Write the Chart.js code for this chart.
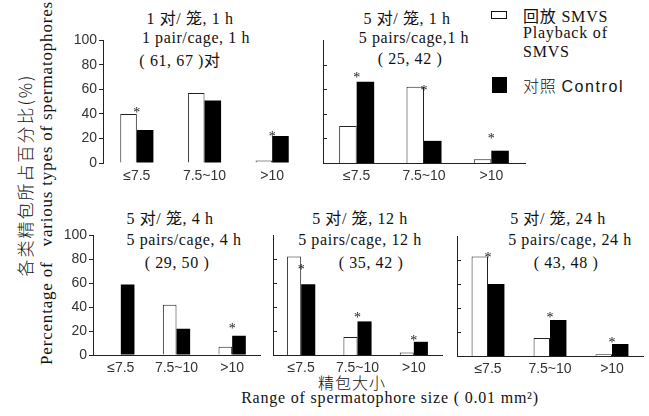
<!DOCTYPE html>
<html lang="zh">
<head>
<meta charset="UTF-8">
<title>Spermatophore size</title>
<style>
  body { margin: 0; background: #fff; }
  #page { position: relative; width: 649px; height: 416px; overflow: hidden; background: #fff; }
  #page canvas { position: absolute; }
  .t { position: absolute; white-space: nowrap; color: #111; transform: translate(-50%, -50%);
       font: 16px "Liberation Serif", "Noto Sans CJK SC", serif; letter-spacing: 0.6px; }
  .lg { position: absolute; white-space: nowrap; color: #111; transform: translateY(-50%);
        font: 16px "Liberation Serif", "Noto Sans CJK SC", serif; letter-spacing: 0.8px; }
  .sans { font-family: "Liberation Sans", "Noto Sans CJK SC", sans-serif; letter-spacing: 1.6px; }
  .cjk { font-family: "Noto Sans CJK SC", sans-serif; font-weight: 300; }
  .box { position: absolute; box-sizing: border-box; }
</style>
</head>
<body>
<div id="page">
  <!-- panel titles -->
  <div class="t" style="left:190px;top:17px">1 对/ 笼, 1 h</div>
  <div class="t" style="left:196px;top:38px">1 pair/cage, 1 h</div>
  <div class="t" style="left:180px;top:59px">( 61, 67 )对</div>

  <div class="t" style="left:407px;top:17px">5 对/ 笼, 1 h</div>
  <div class="t" style="left:414px;top:38px">5 pairs/cage,1 h</div>
  <div class="t" style="left:410px;top:59px">( 25, 42 )</div>

  <div class="t" style="left:170px;top:217px">5 对/ 笼, 4 h</div>
  <div class="t" style="left:184px;top:240px">5 pairs/cage, 4 h</div>
  <div class="t" style="left:177px;top:263px">( 29, 50 )</div>

  <div class="t" style="left:360px;top:217px">5 对/ 笼, 12 h</div>
  <div class="t" style="left:360px;top:240px">5 pairs/cage, 12 h</div>
  <div class="t" style="left:371px;top:263px">( 35, 42 )</div>

  <div class="t" style="left:558px;top:217px">5 对/ 笼, 24 h</div>
  <div class="t" style="left:570px;top:240px">5 pairs/cage, 24 h</div>
  <div class="t" style="left:566px;top:263px">( 43, 48 )</div>

  <!-- legend -->
  <div class="box" style="left:491px;top:11px;width:16px;height:8px;border:1px solid #111"></div>
  <div class="lg" style="left:523px;top:15px">回放 SMVS</div>
  <div class="lg" style="left:523px;top:33px">Playback of</div>
  <div class="lg" style="left:523px;top:52px">SMVS</div>
  <div class="box" style="left:492px;top:77px;width:15px;height:16px;background:#000"></div>
  <div class="lg" style="left:523px;top:85px"><span class="cjk">对照</span> <span class="sans">Control</span></div>

  <!-- axis titles -->
  <div class="t cjk" style="left:24px;top:175px;transform:translate(-50%,-50%) rotate(-90deg);font-size:17px;letter-spacing:2px">各类精包所占百分比(%)</div>
  <div class="t" style="left:47px;top:183px;transform:translate(-50%,-50%) rotate(-90deg);font-size:17px;letter-spacing:0.8px">Percentage of &nbsp; various types of spermatophores</div>
  <div class="t cjk" style="left:352px;top:382px;letter-spacing:1px">精包大小</div>
  <div class="t" style="left:390px;top:398px;letter-spacing:0.8px">Range of spermatophore size ( 0.01 mm²)</div>
</div>

<script src="https://cdn.jsdelivr.net/npm/chart.js"></script>
<script>
// size classes (0.01 mm2)
const categories = ['≤7.5', '7.5~10', '>10'];

// 1 pair/cage, 1 h
const p1Playback = [40, 57, 2];
const p1Control  = [27, 51, 22];
const p1Stars    = [43, null, 23];
// 5 pairs/cage, 1 h
const p2Playback = [30, 62, 3];
const p2Control  = [66, 18, 10];
const p2Stars    = [71, 61, 22];
// 5 pairs/cage, 4 h
const p3Playback = [0, 42, 7];
const p3Control  = [59, 22, 16];
const p3Stars    = [null, null, 24];
// 5 pairs/cage, 12 h
const p4Playback = [82, 15, 2];
const p4Control  = [59, 28, 11];
const p4Stars    = [73, 33, 14];
// 5 pairs/cage, 24 h
const p5Playback = [83, 15, 1.5];
const p5Control  = [60, 30, 10];
const p5Stars    = [84, 34, 13];

const yTicks = [0, 20, 40, 60, 80, 100];

// draws the significance stars, and the short inner ticks on unlabelled axes
const marksPlugin = {
    id: 'marks',
    afterDatasetsDraw(chart, args, opts) {
        var ctx = chart.ctx, xs = chart.scales.x, ys = chart.scales.y;
        ctx.save();
        ctx.font = '14px "Liberation Serif", serif';
        ctx.fillStyle = '#222';
        ctx.textAlign = 'center';
        ctx.textBaseline = 'middle';
        opts.stars.forEach(function(v, i) {
            if (v == null) return;
            ctx.fillText('*', xs.getPixelForValue(i), ys.getPixelForValue(v) + 3);
        });
        if (opts.innerTicks) {
            ctx.strokeStyle = '#222';
            ctx.lineWidth = 1;
            yTicks.slice(1, -1).forEach(function(v) {
                var py = Math.round(ys.getPixelForValue(v)) + 0.5;
                ctx.beginPath();
                ctx.moveTo(chart.chartArea.left, py);
                ctx.lineTo(chart.chartArea.left + 4, py);
                ctx.stroke();
            });
        }
        ctx.restore();
    }
};

// area = pixel box of the plot: l/r edges, t = value 100, b = value 0
function drawPanel(area, playback, control, stars, o) {
    var padL = 40, padT = 10, padR = 6, padB = 26;
    var cv = document.createElement('canvas');
    var w = Math.round(area.r - area.l + padL + padR);
    var h = Math.round(area.b - area.t + padT + padB);
    cv.width = w; cv.height = h;
    cv.style.left = (area.l - padL) + 'px';
    cv.style.top = (area.t - padT) + 'px';
    document.getElementById('page').appendChild(cv);

    var tickFont = { family: '"Liberation Sans", sans-serif', size: 14 };
    new Chart(cv.getContext('2d'), {
        type: 'bar',
        data: {
            labels: categories,
            datasets: [
                { label: 'Playback of SMVS', data: playback, backgroundColor: '#fff', borderColor: '#222', borderWidth: 1 },
                { label: 'Control', data: control, backgroundColor: '#000', borderColor: '#000', borderWidth: 0 }
            ]
        },
        options: {
            responsive: false,
            animation: false,
            categoryPercentage: o.cat,
            barPercentage: 1,
            layout: { padding: { top: padT, right: padR, left: 0, bottom: 0 } },
            plugins: {
                legend: { display: false },
                tooltip: { enabled: false },
                marks: { stars: stars, innerTicks: !o.labels }
            },
            scales: {
                x: {
                    grid: { display: false, drawTicks: false },
                    border: { display: o.baseline, color: '#222' },
                    ticks: { padding: 5, font: tickFont, color: '#333' },
                    afterFit: function(s) { s.height = padB; }
                },
                y: {
                    min: 0, max: 100,
                    afterBuildTicks: function(s) { s.ticks = yTicks.map(function(v) { return { value: v }; }); },
                    ticks: { display: o.labels, padding: 2, font: tickFont, color: '#333' },
                    grid: { display: o.labels, drawOnChartArea: false, tickLength: 4, color: '#222' },
                    border: { display: true, color: '#222' },
                    afterFit: function(s) { s.width = padL; }
                }
            }
        },
        plugins: [marksPlugin]
    });
}

drawPanel({ l: 103, r: 305.5, t: 40, b: 163 }, p1Playback, p1Control, p1Stars, { cat: 0.49, labels: true, baseline: false });
drawPanel({ l: 322.5, r: 524, t: 40, b: 163 }, p2Playback, p2Control, p2Stars, { cat: 0.52, labels: false, baseline: true });
drawPanel({ l: 93, r: 259.5, t: 234.5, b: 354.5 }, p3Playback, p3Control, p3Stars, { cat: 0.49, labels: true, baseline: true });
drawPanel({ l: 272.5, r: 441, t: 235, b: 355 }, p4Playback, p4Control, p4Stars, { cat: 0.5, labels: false, baseline: true });
drawPanel({ l: 457, r: 643, t: 235.5, b: 355.5 }, p5Playback, p5Control, p5Stars, { cat: 0.53, labels: false, baseline: true });
</script>
</body>
</html>
